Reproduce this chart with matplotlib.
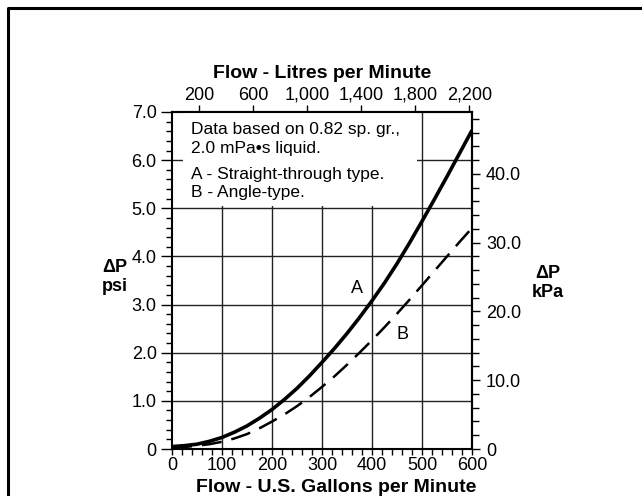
import matplotlib.pyplot as plt
from matplotlib.patches import Rectangle
from matplotlib.lines import Line2D
from matplotlib.ticker import FuncFormatter, MultipleLocator, FixedLocator

plt.rcParams['font.family'] = ['Liberation Sans', 'DejaVu Sans']

# flow in US gpm, pressure drop in psi
flow_gpm = [0, 25, 50, 75, 100, 125, 150, 175, 200, 225, 250, 275, 300,
            325, 350, 375, 400, 425, 450, 475, 500, 525, 550, 575, 600]
dp_straight = [0.05, 0.07, 0.10, 0.16, 0.24, 0.35, 0.48, 0.64, 0.82, 1.03, 1.26, 1.52, 1.80,
               2.09, 2.40, 2.73, 3.08, 3.45, 3.85, 4.28, 4.73, 5.19, 5.66, 6.14, 6.62]
dp_angle = [0.03, 0.04, 0.07, 0.10, 0.15, 0.22, 0.31, 0.43, 0.57, 0.72, 0.89, 1.08, 1.29,
            1.51, 1.75, 2.00, 2.26, 2.53, 2.81, 3.10, 3.40, 3.70, 4.00, 4.30, 4.59]

lpm_ticks = [200, 600, 1000, 1400, 1800, 2200]
kpa_ticks = [0, 10, 20, 30, 40]
lpm_per_gpm = 3.7
kpa_per_psi = 7.0

fig = plt.figure(figsize=(6.42, 4.96), dpi=100)
ax = fig.add_axes([172 / 642, 1 - 449 / 496, 300 / 642, 337 / 496])

ax.set_xlim(0, 600)
ax.set_ylim(0, 7)

# grid
for g in [100, 200, 300, 400, 500]:
    ax.axvline(g, color='#222222', lw=1.0, zorder=0.5)
for g in [1, 2, 3, 4, 5, 6]:
    ax.axhline(g, color='#222222', lw=1.0, zorder=0.5)

# white area behind the note
ax.add_patch(Rectangle((22, 5.05), 468, 1.95, facecolor='white', edgecolor='none', zorder=1))

ax.plot(flow_gpm, dp_straight, color='black', lw=2.6, zorder=3, solid_capstyle='butt')
ax.plot(flow_gpm, dp_angle, color='black', lw=1.8, zorder=3, dashes=(8, 4))

ax.text(370, 3.33, 'A', fontsize=13, ha='center', va='center')
ax.text(461, 2.37, 'B', fontsize=13, ha='center', va='center')

note = [('Data based on 0.82 sp. gr.,', 6.64), ('2.0 mPa\u2022s liquid.', 6.25),
        ('A - Straight-through type.', 5.70), ('B - Angle-type.', 5.33)]
for s, yy in note:
    ax.text(38, yy, s, fontsize=12.5, ha='left', va='center', zorder=4)

# bottom / left ticks
ax.xaxis.set_major_locator(MultipleLocator(100))
ax.xaxis.set_minor_locator(MultipleLocator(20))
ax.yaxis.set_major_locator(MultipleLocator(1))
ax.yaxis.set_minor_locator(MultipleLocator(0.2))
ax.xaxis.set_major_formatter(FuncFormatter(lambda v, p: '%d' % v))
ax.yaxis.set_major_formatter(FuncFormatter(lambda v, p: '0' if v == 0 else '%.1f' % v))
ax.tick_params(axis='x', which='both', direction='out', length=4, width=1, labelsize=13, pad=2)
ax.tick_params(axis='y', which='major', direction='out', length=8, width=1, labelsize=13, pad=3)
ax.tick_params(axis='y', which='minor', direction='out', length=4, width=1)
for sp in ax.spines.values():
    sp.set_linewidth(1.5)

# top axis: litres per minute
top = ax.secondary_xaxis('top', functions=(lambda g: g * lpm_per_gpm, lambda l: l / lpm_per_gpm))
top.xaxis.set_major_locator(FixedLocator(lpm_ticks))
top.xaxis.set_major_formatter(FuncFormatter(lambda v, p: '{:,.0f}'.format(v)))
top.tick_params(direction='out', length=5, width=1, labelsize=13, pad=1)
top.spines['top'].set_linewidth(1.5)

# right axis: kPa
right = ax.secondary_yaxis('right', functions=(lambda p: p * kpa_per_psi, lambda k: k / kpa_per_psi))
right.yaxis.set_major_locator(FixedLocator(kpa_ticks))
right.yaxis.set_minor_locator(MultipleLocator(2))
right.yaxis.set_major_formatter(FuncFormatter(lambda v, p: '0' if v == 0 else '%.1f' % v))
right.tick_params(which='major', direction='out', length=6, width=1, labelsize=13, pad=4)
right.tick_params(which='minor', direction='out', length=5, width=1)
right.spines['right'].set_linewidth(1.5)

# axis titles
fig.text(336 / 642, 1 - 487 / 496, 'Flow - U.S. Gallons per Minute', fontsize=14,
         fontweight='bold', ha='center', va='center')
fig.text(322 / 642, 1 - 73 / 496, 'Flow - Litres per Minute', fontsize=14,
         fontweight='bold', ha='center', va='center')
fig.text(115 / 642, 1 - 277 / 496, '\u0394P\npsi', fontsize=13, fontweight='bold',
         ha='center', va='center', linespacing=1.2)
fig.text(548 / 642, 1 - 283 / 496, '\u0394P\nkPa', fontsize=13, fontweight='bold',
         ha='center', va='center', linespacing=1.2)

# frame around the figure (top and left edges visible)
fig.add_artist(Line2D([8 / 642, 8 / 642, 1.0], [0.0, 1 - 8 / 496, 1 - 8 / 496],
                      transform=fig.transFigure, color='black', lw=2.2))

fig.savefig('out.png', dpi=100)
